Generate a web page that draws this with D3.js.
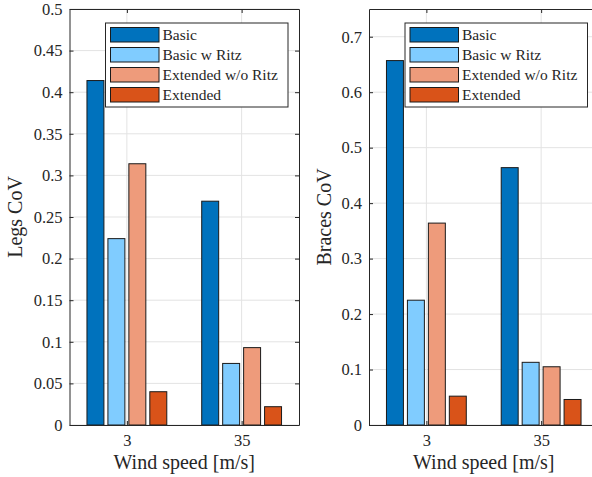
<!DOCTYPE html>
<html><head><meta charset="utf-8">
<script src="https://cdn.jsdelivr.net/npm/d3@7"></script>
<style>body{margin:0;background:#fff}svg{display:block}</style>
</head><body>
<svg id="c" width="592" height="477"></svg>
<script>
const categories = ["3", "35"];
const seriesNames = ["Basic", "Basic w Ritz", "Extended w/o Ritz", "Extended"];
const seriesColors = ["#0072BD", "#80CCFF", "#EE9B7B", "#D95319"];
const legsValues = [[0.414, 0.269], [0.224, 0.074], [0.314, 0.093], [0.040, 0.022]];
const bracesValues = [[0.657, 0.464], [0.225, 0.113], [0.364, 0.105], [0.052, 0.046]];
const legsTicks = [0, 0.05, 0.1, 0.15, 0.2, 0.25, 0.3, 0.35, 0.4, 0.45, 0.5];
const bracesTicks = [0, 0.1, 0.2, 0.3, 0.4, 0.5, 0.6, 0.7];

const FONT = "Liberation Serif";
const svg = d3.select("#c");

function panel(opt) {
  const g = svg.append("g");
  const x = d3.scaleLinear().domain([0.5, 2.5]).range([opt.x0, opt.x0 + 229.5]);
  const y = d3.scaleLinear().domain([0, opt.ymax]).range([425, 9]);
  const L = x.range()[0], R = x.range()[1], T = 9, B = 425;
  // grid
  g.selectAll(".gy").data(opt.ticks).enter().append("line")
    .attr("x1", L).attr("x2", R).attr("y1", d => y(d)).attr("y2", d => y(d))
    .attr("stroke", "#e3e3e3").attr("stroke-width", 1);
  g.selectAll(".gx").data(categories).enter().append("line")
    .attr("x1", (d, i) => x(i + 1)).attr("x2", (d, i) => x(i + 1)).attr("y1", T).attr("y2", B)
    .attr("stroke", "#e3e3e3").attr("stroke-width", 1);
  // bars
  const off = [-1.5, -0.5, 0.5, 1.5];
  const step = 21 / 115, bw = 17 / 115;
  opt.values.forEach((vals, s) => {
    g.selectAll(".b" + s).data(vals).enter().append("rect")
      .attr("x", (d, i) => x(i + 1 + off[s] * step - bw / 2))
      .attr("width", x(bw) - x(0))
      .attr("y", d => y(d)).attr("height", d => y(0) - y(d))
      .attr("fill", seriesColors[s]).attr("stroke", "#1a1a1a").attr("stroke-width", 1);
  });
  // axes
  const ax = g.append("g").attr("transform", `translate(${L},0)`)
    .call(d3.axisLeft(y).tickValues(opt.ticks).tickSizeInner(-4).tickSizeOuter(0).tickPadding(7).tickFormat(d => String(+d.toFixed(2))));
  ax.attr("font-family", FONT);
  ax.select(".domain").attr("stroke", "#262626");
  ax.selectAll(".tick line").attr("stroke", "#262626");
  ax.selectAll("text").attr("font-size", 16.5).style("font-family", FONT).attr("fill", "#262626");
  const ar = g.append("g").attr("transform", `translate(${R},0)`)
    .call(d3.axisRight(y).tickValues(opt.ticks).tickSizeInner(-4).tickSizeOuter(0).tickFormat(""));
  ar.selectAll("line,path").attr("stroke", "#262626");
  const xb = g.append("g").attr("transform", `translate(0,${B})`)
    .call(d3.axisBottom(x).tickValues([1, 2]).tickSizeInner(-4).tickSizeOuter(0).tickPadding(9).tickFormat((d, i) => categories[i]));
  xb.attr("font-family", FONT);
  xb.selectAll("line,path").attr("stroke", "#262626");
  xb.selectAll("text").attr("font-size", 16.5).style("font-family", FONT).attr("fill", "#262626");
  const xt = g.append("g").attr("transform", `translate(0,${T})`)
    .call(d3.axisTop(x).tickValues([1, 2]).tickSizeInner(-4).tickSizeOuter(0).tickFormat(""));
  xt.selectAll("line,path").attr("stroke", "#262626");
  // labels
  g.append("text").attr("x", (L + R) / 2).attr("y", 469).attr("text-anchor", "middle")
    .style("font-family", FONT).attr("font-size", 20).attr("fill", "#262626").text("Wind speed [m/s]");
  g.append("text").attr("transform", `translate(${opt.labelX},${(T + B) / 2}) rotate(-90)`)
    .attr("text-anchor", "middle").style("font-family", FONT).attr("font-size", 20).attr("fill", "#262626").text(opt.ylabel);
  // legend
  const lg = g.append("g").attr("transform", `translate(${L + 36},23)`);
  lg.append("rect").attr("x", 0).attr("y", 0).attr("width", 182.5).attr("height", 84)
    .attr("fill", "#fff").attr("stroke", "#262626").attr("stroke-width", 1);
  seriesNames.forEach((n, i) => {
    lg.append("rect").attr("x", 5).attr("y", 4.5 + i * 20).attr("width", 48.5).attr("height", 14.5)
      .attr("fill", seriesColors[i]).attr("stroke", "#1a1a1a").attr("stroke-width", 1);
    lg.append("text").attr("x", 57).attr("y", 12 + i * 20).attr("dy", "0.35em")
      .style("font-family", FONT).attr("font-size", 15.5).attr("fill", "#262626").text(n);
  });
}

panel({x0: 69.5, ymax: 0.5, ticks: legsTicks, values: legsValues, ylabel: "Legs CoV", labelX: 22});
panel({x0: 369, ymax: 0.75, ticks: bracesTicks, values: bracesValues, ylabel: "Braces CoV", labelX: 331});
</script>
</body></html>
